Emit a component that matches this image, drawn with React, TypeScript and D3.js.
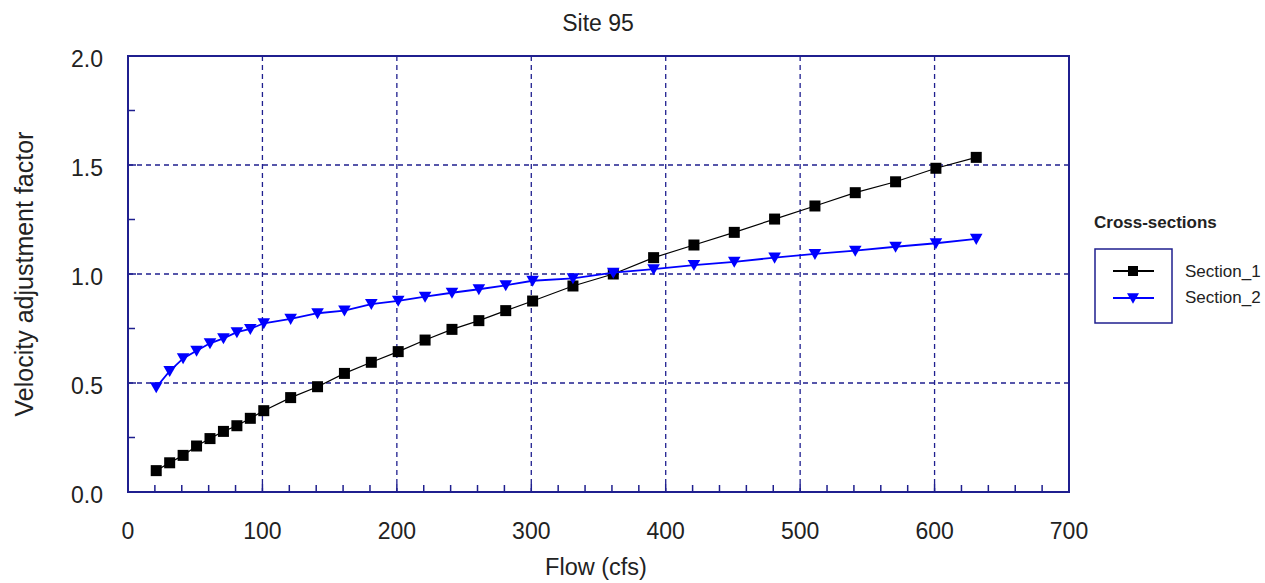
import * as d3 from "d3";

const FLOWS = [21, 31, 41, 51, 61, 71, 81, 91, 101, 121, 141, 161, 181, 201, 221, 241, 261, 281, 301, 331, 361, 391, 421, 451, 481, 511, 541, 571, 601, 631];
const SECTION_1 = [0.098, 0.134, 0.168, 0.211, 0.245, 0.278, 0.304, 0.338, 0.373, 0.433, 0.483, 0.544, 0.595, 0.644, 0.697, 0.746, 0.786, 0.832, 0.876, 0.945, 1.0, 1.075, 1.133, 1.191, 1.252, 1.312, 1.373, 1.423, 1.485, 1.535];
const SECTION_2 = [0.48, 0.555, 0.613, 0.648, 0.682, 0.705, 0.733, 0.748, 0.774, 0.794, 0.82, 0.832, 0.862, 0.877, 0.896, 0.914, 0.93, 0.948, 0.969, 0.98, 1.006, 1.022, 1.041, 1.056, 1.075, 1.092, 1.107, 1.125, 1.141, 1.161];
const X_TICKS = [0, 100, 200, 300, 400, 500, 600, 700];
const Y_TICKS = [0, 0.5, 1.0, 1.5, 2.0];

const W = 1265, H = 583;
const mg = { l: 128, t: 56, r: 196, b: 91 };
const NAVY = "#1f1f8f";
const TXT = "#222";

export default function App() {
  const x = d3.scaleLinear().domain([0, 700]).range([mg.l, W - mg.r]);
  const y = d3.scaleLinear().domain([0, 2]).range([H - mg.b, mg.t]);
  const x0 = x(0), x1 = x(700), y0 = y(0), y1 = y(2);

  const pts1 = FLOWS.map((f, i) => [f, SECTION_1[i]] as [number, number]);
  const pts2 = FLOWS.map((f, i) => [f, SECTION_2[i]] as [number, number]);
  const line = d3.line<[number, number]>().x(d => x(d[0])).y(d => y(d[1]));

  const minorX = d3.range(0, 701, 20).filter(v => v % 100 !== 0);
  const minorY = d3.range(0.25, 2, 0.5);
  const tri = (cx: number, cy: number, s = 6.3) =>
    `M${cx - s},${cy - s * 0.8}L${cx + s},${cy - s * 0.8}L${cx},${cy + s * 0.95}Z`;

  const font = "Arial, 'Liberation Sans', sans-serif";

  return (
    <svg width={W} height={H} style={{ position: "absolute", left: 0, top: 0, fontFamily: font }}>
      <rect width={W} height={H} fill="#fff" />
      <text x={598} y={31} textAnchor="middle" fontSize={23} fill={TXT}>Site 95</text>

      {/* grid */}
      {X_TICKS.filter(v => v > 0 && v < 700).map(v => (
        <line key={"gx" + v} x1={x(v)} x2={x(v)} y1={y1} y2={y0} stroke={NAVY} strokeWidth={1.3} strokeDasharray="5,4" />
      ))}
      {Y_TICKS.filter(v => v > 0 && v < 2).map(v => (
        <line key={"gy" + v} x1={x0} x2={x1} y1={y(v)} y2={y(v)} stroke={NAVY} strokeWidth={1.3} strokeDasharray="5,4" />
      ))}

      {/* ticks */}
      {X_TICKS.map(v => (
        <line key={"tx" + v} x1={x(v)} x2={x(v)} y1={y0} y2={y0 - 8} stroke={NAVY} strokeWidth={1.5} />
      ))}
      {minorX.map(v => (
        <line key={"mx" + v} x1={x(v)} x2={x(v)} y1={y0} y2={y0 - 7} stroke={NAVY} strokeWidth={1.5} />
      ))}
      {Y_TICKS.map(v => (
        <line key={"ty" + v} x1={x0} x2={x0 + 8} y1={y(v)} y2={y(v)} stroke={NAVY} strokeWidth={1.5} />
      ))}
      {minorY.map(v => (
        <line key={"my" + v} x1={x0} x2={x0 + 7} y1={y(v)} y2={y(v)} stroke={NAVY} strokeWidth={1.5} />
      ))}

      <rect x={x0} y={y1} width={x1 - x0} height={y0 - y1} fill="none" stroke={NAVY} strokeWidth={2} />

      {/* tick labels */}
      {X_TICKS.map(v => (
        <text key={"lx" + v} x={x(v)} y={y0 + 47} textAnchor="middle" fontSize={23} fill={TXT}>{v}</text>
      ))}
      {Y_TICKS.map(v => (
        <text key={"ly" + v} x={x0 - 25} y={y(v) + 11} textAnchor="end" fontSize={23} fill={TXT}>{v.toFixed(1)}</text>
      ))}

      <text x={596} y={575} textAnchor="middle" fontSize={23.5} fill={TXT}>Flow (cfs)</text>
      <text transform={`translate(33,${(y0 + y1) / 2}) rotate(-90)`} textAnchor="middle" fontSize={25} fill={TXT}>Velocity adjustment factor</text>

      {/* series */}
      <path d={line(pts1) || ""} fill="none" stroke="#000" strokeWidth={1.2} />
      {pts1.map((d, i) => (
        <rect key={"s1" + i} x={x(d[0]) - 5.5} y={y(d[1]) - 5.5} width={11} height={11} fill="#000" />
      ))}
      <path d={line(pts2) || ""} fill="none" stroke="#0000ff" strokeWidth={1.8} />
      {pts2.map((d, i) => (
        <path key={"s2" + i} d={tri(x(d[0]), y(d[1]))} fill="#0000ff" />
      ))}

      {/* legend */}
      <text x={1094} y={228} fontSize={17} fontWeight="bold" fill={TXT}>Cross-sections</text>
      <rect x={1095} y={249} width={77} height={74} fill="none" stroke={NAVY} strokeWidth={1.5} />
      <line x1={1113} x2={1154} y1={271} y2={271} stroke="#000" strokeWidth={2} />
      <rect x={1128} y={266} width={10} height={10} fill="#000" />
      <line x1={1113} x2={1154} y1={298} y2={298} stroke="#0000ff" strokeWidth={2} />
      <path d={tri(1133, 298, 6)} fill="#0000ff" />
      <text x={1185} y={277} fontSize={17} fill={TXT}>Section_1</text>
      <text x={1185} y={303} fontSize={17} fill={TXT}>Section_2</text>
    </svg>
  );
}
